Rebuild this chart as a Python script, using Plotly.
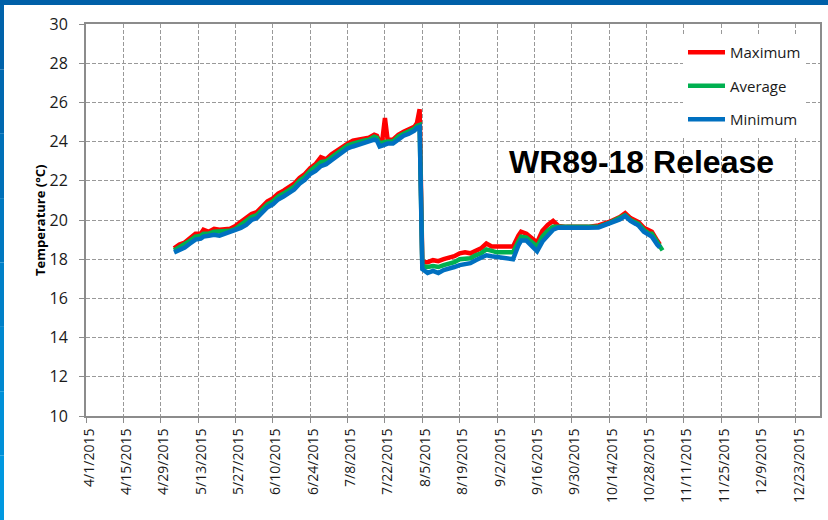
import plotly.graph_objects as go

dates = [
    "2015-05-04", "2015-05-06", "2015-05-08", "2015-05-10", "2015-05-12", "2015-05-14",
    "2015-05-15", "2015-05-17", "2015-05-19", "2015-05-21", "2015-05-23", "2015-05-25",
    "2015-05-27", "2015-05-29", "2015-05-31", "2015-06-02", "2015-06-04", "2015-06-06",
    "2015-06-08", "2015-06-10", "2015-06-12", "2015-06-14", "2015-06-16", "2015-06-18",
    "2015-06-20", "2015-06-22", "2015-06-24", "2015-06-26", "2015-06-28", "2015-06-30",
    "2015-07-02", "2015-07-04", "2015-07-06", "2015-07-08", "2015-07-10", "2015-07-12",
    "2015-07-14", "2015-07-16", "2015-07-18", "2015-07-19", "2015-07-20", "2015-07-21",
    "2015-07-22", "2015-07-23", "2015-07-25", "2015-07-27", "2015-07-29", "2015-07-31",
    "2015-08-02", "2015-08-03", "2015-08-04", "2015-08-05", "2015-08-07", "2015-08-09",
    "2015-08-11", "2015-08-13", "2015-08-15", "2015-08-17", "2015-08-19", "2015-08-21",
    "2015-08-23", "2015-08-25", "2015-08-27", "2015-08-29", "2015-08-31", "2015-09-02",
    "2015-09-04", "2015-09-06", "2015-09-08", "2015-09-10", "2015-09-11", "2015-09-13",
    "2015-09-15", "2015-09-17", "2015-09-19", "2015-09-21", "2015-09-23", "2015-09-25",
    "2015-09-28", "2015-10-02", "2015-10-06", "2015-10-10", "2015-10-14", "2015-10-18",
    "2015-10-20", "2015-10-22", "2015-10-24", "2015-10-25", "2015-10-27", "2015-10-29",
    "2015-10-30", "2015-11-01", "2015-11-02", "2015-11-03",
]

maximum = [
    18.55, 18.75, 18.85, 19.10, 19.30, 19.30,
    19.50, 19.40, 19.55, 19.50, 19.55, 19.55,
    19.70, 19.90, 20.05, 20.30, 20.40, 20.65,
    20.95, 21.10, 21.35, 21.50, 21.65, 21.85,
    22.15, 22.35, 22.65, 22.85, 23.20, 23.10,
    23.35, 23.55, 23.75, 23.90, 24.05, 24.10,
    24.15, 24.20, 24.35, 24.30, 24.00, 24.05,
    25.20, 24.10, 24.10, 24.35, 24.50, 24.60,
    24.75, 24.95, 25.65, 17.85, 17.85, 17.95,
    17.90, 18.00, 18.05, 18.15, 18.30, 18.35,
    18.30, 18.45, 18.55, 18.80, 18.65, 18.65,
    18.65, 18.60, 18.65, 19.20, 19.40, 19.30,
    19.10, 18.85, 19.45, 19.75, 19.95, 19.70,
    19.65, 19.65, 19.65, 19.72, 19.90, 20.15,
    20.35, 20.10, 19.95, 19.90, 19.60, 19.45,
    19.40, 18.95, 18.75, None,
]

average = [
    18.45, 18.60, 18.75, 18.95, 19.15, 19.20,
    19.30, 19.30, 19.40, 19.40, 19.45, 19.45,
    19.55, 19.75, 19.90, 20.15, 20.25, 20.50,
    20.80, 20.95, 21.20, 21.35, 21.55, 21.70,
    22.00, 22.20, 22.50, 22.70, 22.95, 23.00,
    23.20, 23.40, 23.60, 23.80, 23.90, 24.00,
    24.05, 24.10, 24.25, 24.20, 23.90, 23.95,
    24.00, 24.00, 24.00, 24.25, 24.40, 24.50,
    24.65, 24.80, 24.85, 17.65, 17.60, 17.65,
    17.60, 17.70, 17.75, 17.85, 18.00, 18.05,
    18.05, 18.20, 18.30, 18.50, 18.40, 18.35,
    18.35, 18.35, 18.35, 18.90, 19.15, 19.10,
    18.90, 18.65, 19.15, 19.45, 19.65, 19.65,
    19.62, 19.62, 19.62, 19.65, 19.85, 20.08,
    20.25, 20.00, 19.85, 19.80, 19.50, 19.30,
    19.30, 18.85, 18.60, 18.45,
]

minimum = [
    18.35, 18.45, 18.60, 18.80, 19.00, 19.05,
    19.15, 19.20, 19.25, 19.20, 19.30, 19.35,
    19.45, 19.60, 19.75, 20.00, 20.10, 20.35,
    20.65, 20.80, 21.05, 21.20, 21.40, 21.55,
    21.85, 22.05, 22.35, 22.50, 22.75, 22.85,
    23.05, 23.25, 23.45, 23.65, 23.75, 23.85,
    23.90, 24.00, 24.10, 24.05, 23.75, 23.80,
    23.85, 23.90, 23.90, 24.10, 24.30, 24.40,
    24.55, 24.70, 24.75, 17.50, 17.30, 17.40,
    17.30, 17.45, 17.50, 17.60, 17.70, 17.75,
    17.80, 17.95, 18.05, 18.20, 18.15, 18.10,
    18.10, 18.05, 18.00, 18.70, 18.95, 18.95,
    18.70, 18.40, 18.90, 19.20, 19.50, 19.62,
    19.60, 19.60, 19.60, 19.62, 19.80, 20.03,
    20.20, 19.95, 19.80, 19.72, 19.40, 19.20,
    19.15, 18.75, 18.60, None,
]

series_names = ["Maximum", "Average", "Minimum"]
series_colors = ["#ff0000", "#00b050", "#0070c0"]
y_ticks = [10, 12, 14, 16, 18, 20, 22, 24, 26, 28, 30]
x_tick_dates = [
    "2015-04-01", "2015-04-15", "2015-04-29", "2015-05-13", "2015-05-27", "2015-06-10",
    "2015-06-24", "2015-07-08", "2015-07-22", "2015-08-05", "2015-08-19", "2015-09-02",
    "2015-09-16", "2015-09-30", "2015-10-14", "2015-10-28", "2015-11-11", "2015-11-25",
    "2015-12-09", "2015-12-23",
]
x_tick_labels = [
    "4/1/2015", "4/15/2015", "4/29/2015", "5/13/2015", "5/27/2015", "6/10/2015",
    "6/24/2015", "7/8/2015", "7/22/2015", "8/5/2015", "8/19/2015", "9/2/2015",
    "9/16/2015", "9/30/2015", "10/14/2015", "10/28/2015", "11/11/2015", "11/25/2015",
    "12/9/2015", "12/23/2015",
]

fig = go.Figure()
for name, vals, col in zip(series_names, [maximum, average, minimum], series_colors):
    fig.add_trace(go.Scatter(
        x=dates, y=vals, name=name, mode="lines", legendgroup=name,
        line=dict(color=col, width=4.5), connectgaps=False,
    ))

W, H = 828, 520
L, R, T, B = 86, 8, 24, 104
pw, ph = W - L - R, H - T - B

def px(x):
    return (x - L) / pw

def py(y):
    return (H - B - y) / ph

shapes = []
# top blue band
shapes.append(dict(type="rect", xref="paper", yref="paper", x0=px(0), x1=px(W),
                   y0=py(0), y1=py(5), fillcolor="#0060a8", line=dict(width=0), layer="above"))
# left gradient band
left_cols = ["#0062aa", "#0068b0", "#0070b8", "#0078c0", "#0080c8", "#0088d0", "#0090d8", "#0098e0"]
n = len(left_cols)
for i, c in enumerate(left_cols):
    shapes.append(dict(type="rect", xref="paper", yref="paper", x0=px(0), x1=px(4),
                       y0=py(5 + (H - 5) * i / n), y1=py(5 + (H - 5) * (i + 1) / n),
                       fillcolor=c, line=dict(width=0), layer="above"))

fig.update_layout(
    width=W, height=H,
    margin=dict(l=L, r=R, t=T, b=B, autoexpand=False),
    paper_bgcolor="white", plot_bgcolor="white",
    font=dict(family="Open Sans", color="#1a1a1a"),
    showlegend=True,
    legend=dict(
        x=px(683), y=py(36), xanchor="left", yanchor="top",
        bgcolor="white", borderwidth=0, font=dict(size=15, family="Open Sans"),
        tracegroupgap=11, traceorder="grouped", itemwidth=37,
    ),
    shapes=shapes,
    annotations=[
        dict(text="<b>WR89-18 Release</b>", xref="paper", yref="paper",
             x=px(641), y=py(162), xanchor="center", yanchor="middle", showarrow=False,
             font=dict(family="Liberation Sans", size=32, color="#000000")),
        dict(text="<b>Temperature (°C)</b>", xref="paper", yref="paper",
             x=px(40), y=py(221), xanchor="center", yanchor="middle", showarrow=False,
             textangle=-90, font=dict(family="Open Sans", size=13, color="#000000")),
    ],
)

fig.update_xaxes(
    type="date", range=["2015-04-01", "2016-01-01"],
    tickvals=x_tick_dates, ticktext=x_tick_labels, tickangle=-90,
    tickfont=dict(size=14, family="Open Sans", color="#1a1a1a"),
    showgrid=True, gridcolor="#999999", griddash="4px,2px", gridwidth=1,
    showline=True, linecolor="#8c8c8c", linewidth=2, mirror=True,
    ticks="outside", ticklen=5, tickcolor="#8c8c8c", zeroline=False,
    ticklabelshift=3,
)
fig.update_yaxes(
    range=[10, 30], tickvals=y_ticks,
    tickfont=dict(size=16, family="Open Sans", color="#1a1a1a"),
    showgrid=True, gridcolor="#999999", griddash="4px,2px", gridwidth=1,
    showline=True, linecolor="#8c8c8c", linewidth=2, mirror=True,
    ticks="outside", ticklen=5, tickcolor="#8c8c8c", zeroline=False,
    ticklabelstandoff=8,
)

fig.write_html("out.html", config={"displayModeBar": False},
               post_script="document.body.style.margin='0px';")
